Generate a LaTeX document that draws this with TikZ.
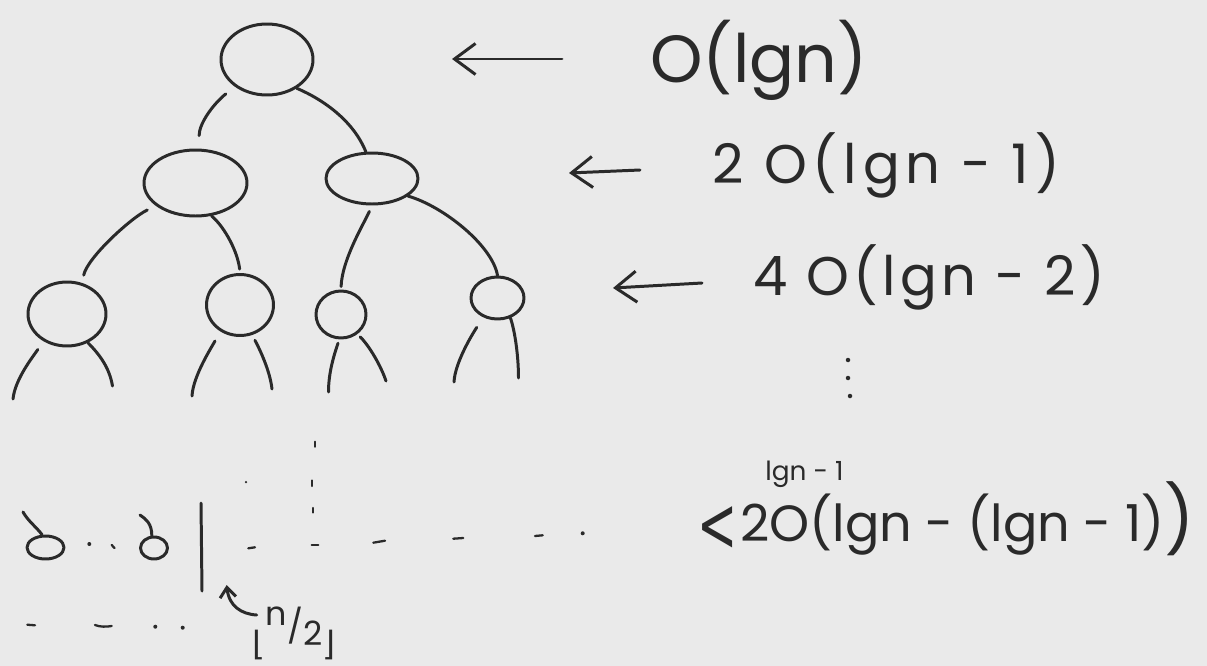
\documentclass[tikz,border=0pt]{standalone}
\usepackage{fontspec}
\setmainfont{Poppins}
\newfontfamily\symfont{DejaVu Sans}
\usetikzlibrary{arrows.meta,shapes.geometric}
\definecolor{paper}{RGB}{234,234,234}
\definecolor{ink}{RGB}{42,42,42}

\begin{document}
\begin{tikzpicture}[x=0.02cm,y=-0.02cm,
  pen/.style={draw=ink,line width=1.7pt,line cap=round,line join=round},
  tnode/.style 2 args={pen,ellipse,inner sep=0pt,
    minimum width=#1*0.02cm,minimum height=#2*0.02cm},
  pointer/.style={pen,-{Straight Barb[length=0.42cm,width=0.62cm]}},
  hook/.style={pen,-{Straight Barb[length=0.2cm,width=0.32cm]}},
  formula/.style={text=ink,inner sep=0pt,anchor=base west},
  speck/.style={fill=ink},
]
% paper
\fill[paper] (0,0) rectangle (1207,666);
\useasboundingbox (0,0) rectangle (1207,666);

% ---- recursion tree ----
\node[tnode={92}{71}]  (root) at (267,59.5) {};
\node[tnode={103}{66}] (L)    at (195.5,183) {};
\node[tnode={92}{51}]  (R)    at (372,178.5) {};
\node[tnode={78}{64}]  (A)    at (67,314) {};
\node[tnode={67}{61}]  (B)    at (240,305) {};
\node[tnode={50}{47}]  (C)    at (341,314.5) {};
\node[tnode={53}{42}]  (D)    at (497.5,298) {};

\draw[pen,shorten <=0.23cm,shorten >=0.26cm] (root.220) .. controls +(-22,18) and +(0,-25) .. (L.84);
\draw[pen] (root.316) .. controls +(28,12) and +(-12,-30) .. (R.103);
\draw[pen,shorten <=0.19cm,shorten >=0.16cm] (L.210) .. controls +(-25,12) and +(5,-25) .. (A.64);
\draw[pen,shorten >=0.08cm] (L.296) .. controls +(14,12) and +(-2,-20) .. (B.90);
\draw[pen,shorten <=0.13cm,shorten >=0.06cm] (R.270) .. controls +(-8,18) and +(1,-30) .. (C.90);
\draw[pen] (R.334) .. controls +(35,10) and +(-5,-30) .. (D.90);

% dangling children below the third level
\coordinate (Al) at (13,399);   \coordinate (Ar) at (112.5,386);
\coordinate (Bl) at (192,396);  \coordinate (Br) at (272,389);
\coordinate (Cl) at (328.5,392);\coordinate (Cr) at (386,381);
\coordinate (Dl) at (454,382);  \coordinate (Dr) at (518.5,378);
\draw[pen,shorten <=0.2cm]  (A.229) .. controls +(-10,15) and +(2,-20) .. (Al);
\draw[pen]                  (A.306) .. controls +(12,12) and +(-3,-18) .. (Ar);
\draw[pen,shorten <=0.22cm] (B.233) .. controls +(-8,15) and +(1,-20) .. (Bl);
\draw[pen,shorten <=0.12cm] (B.292) .. controls +(8,15) and +(-2,-18) .. (Br);
\draw[pen,shorten <=0.08cm] (C.266) .. controls +(-5,15) and +(0,-20) .. (Cl);
\draw[pen,shorten <=0.08cm] (C.310) .. controls +(12,12) and +(-5,-15) .. (Cr);
\draw[pen,shorten <=0.24cm] (D.234) .. controls +(-10,15) and +(1,-20) .. (Dl);
\draw[pen]                  (D.303) .. controls +(5,15) and +(0,-20) .. (Dr);

% ---- leaves ----
\node[tnode={37}{23}] (leafa) at (45.5,547.5) {};
\node[tnode={27}{22}] (leafb) at (154,548) {};
\coordinate (ta) at (23,512);
\coordinate (tb) at (140,515);
\draw[pen] (leafa.105) .. controls +(-6,-8) and +(5,9) .. (ta);
\draw[pen] (leafb.100) .. controls +(0,-12) and +(6,4) .. (tb);
\fill[speck] (89.3,544) circle[radius=0.04cm];
\draw[pen,line width=1.3pt] (111.7,545) -- (114.5,548);

% midpoint bar
\coordinate (bartop) at (201,503);
\coordinate (barbot) at (202,591);
\draw[pen] (bartop) -- (barbot);

% dotted continuation
\draw[pen,line width=1.3pt] (248.3,548.3) -- (255,547.3);
\fill[speck] (246,482) circle[radius=0.025cm];
\draw[pen,line width=1.3pt] (315,441.7) -- (315,446.7);
\draw[pen,line width=1.3pt] (312.3,480.5) -- (312.3,486);
\draw[pen,line width=1.3pt] (313.3,508) -- (313.3,512.5);
\draw[pen,line width=1.3pt] (311.7,545) -- (318.3,545);
\draw[pen,line width=1.3pt] (373.3,542.7) -- (385,540.7);
\draw[pen,line width=1.3pt] (453.3,538.7) -- (463.3,538);
\draw[pen,line width=1.3pt] (535,536) -- (542.7,535.3);
\fill[speck] (582.7,533.3) circle[radius=0.04cm];
\draw[pen,line width=1.3pt] (27.3,624.7) -- (35,625.3);
\draw[pen,line width=1.3pt] (95,625) .. controls (100,627) and (106,627) .. (111.7,626);
\fill[speck] (155.3,626.7) circle[radius=0.04cm];
\fill[speck] (182.7,627.7) circle[radius=0.04cm];

% floor(n/2) marker
\node[text=ink,inner sep=0pt,font=\fontsize{19}{19}\selectfont] (half) at (294,633)
  {{\symfont\raisebox{-0.5em}{⌊}}\raisebox{0.4em}{n}/\raisebox{-0.2em}{2}{\symfont\raisebox{-0.5em}{⌋}}};
\coordinate (hooktail) at (256.7,615);
\coordinate (hooktip) at (226.7,585);
\draw[hook] (hooktail) .. controls (241,614) and (229,606) .. (hooktip);

% ---- cost per level ----
\node[formula,font=\fontsize{38}{38}\selectfont] (l1) at (650,82) {O(lgn)};
\node[formula,font=\fontsize{31}{31}\selectfont\addfontfeatures{LetterSpace=11}] (l2) at (712,183) {2 O(lgn - 1)};
\node[formula,font=\fontsize{31}{31}\selectfont\addfontfeatures{LetterSpace=8}] (l3) at (753,295) {4 O(lgn - 2)};
\node[formula,font=\fontsize{29}{29}\selectfont] (l4) at (697,541)
  {{\symfont\fontsize{44}{44}\selectfont\raisebox{-0.14em}{\scalebox{0.62}[1]{<}}}\kern0.05em2O(lgn - (lgn - 1)\raisebox{-0.05em}{\scalebox{1.3}{)}}};
\node[formula,font=\fontsize{15}{15}\selectfont] (l4exp) at (765,480) {lgn - 1};

\coordinate (p1tail) at (562,59);  \coordinate (p1tip) at (452,59);
\coordinate (p2tail) at (640,170); \coordinate (p2tip) at (569,173);
\coordinate (p3tail) at (702,283); \coordinate (p3tip) at (613,288);
\draw[pointer] (p1tail) -- (p1tip);
\draw[pointer] (p2tail) -- (p2tip);
\draw[pointer] (p3tail) -- (p3tip);

% vertical ellipsis
\fill[speck] (848,360) circle[radius=0.045cm];
\fill[speck] (848,378) circle[radius=0.045cm];
\fill[speck] (850,396) circle[radius=0.045cm];
\end{tikzpicture}
\end{document}
